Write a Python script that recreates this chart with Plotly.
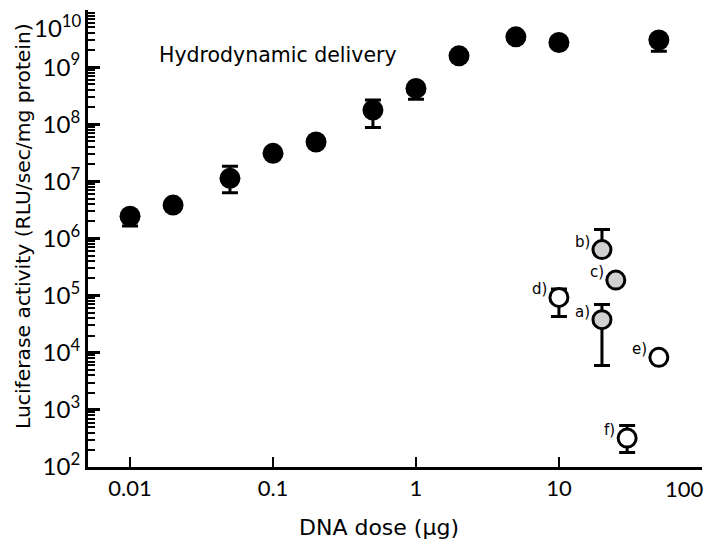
import numpy as np
import plotly.graph_objects as go

FONT = "Lato"
TFONT = "DejaVu Sans"

# Hydrodynamic delivery (filled black)
hd_dose = [0.01, 0.02, 0.05, 0.1, 0.2, 0.5, 1, 2, 5, 10, 50]
hd_act = [2.45e6, 3.85e6, 1.13e7, 3.1e7, 4.9e7, 1.77e8, 4.25e8, 1.58e9, 3.4e9, 2.7e9, 2.99e9]
hd_err_up = [0, 0, 0.72e7, 0, 0, 0.88e8, 0, 0, 0, 0, 0]
hd_err_dn = [0.8e6, 0, 0.5e7, 0, 0, 0.89e8, 1.5e8, 0, 0, 0, 1.1e9]

# Gray filled points a), b), c)
gray_labels = ["a)", "b)", "c)"]
gray_dose = [20, 20, 25]
gray_act = [3.8e4, 6.4e5, 1.87e5]
gray_err_up = [3.2e4, 8.0e5, 0]
gray_err_dn = [3.2e4, 0, 0]

# Open points d), e), f)
open_labels = ["d)", "e)", "f)"]
open_dose = [10, 50, 30]
open_act = [9.3e4, 8.3e3, 3.2e2]
open_err_up = [3.7e4, 0, 2.1e2]
open_err_dn = [5.0e4, 0, 1.4e2]

x_tickvals = [0.01, 0.1, 1, 10, 100]
x_ticktext = ["0.01", "0.1", "1", "10", "100"]
y_exponents = [2, 3, 4, 5, 6, 7, 8, 9, 10]
y_tickvals = [10.0 ** e for e in y_exponents]
y_ticktext = ["10<sup>%d</sup>" % e for e in y_exponents]

fig = go.Figure()

fig.add_trace(go.Scatter(
    x=hd_dose, y=hd_act, mode="markers",
    marker=dict(size=21, color="black", line=dict(width=0)),
    error_y=dict(type="data", symmetric=False, array=hd_err_up, arrayminus=hd_err_dn,
                 color="black", thickness=3, width=8),
    showlegend=False, cliponaxis=False))

fig.add_trace(go.Scatter(
    x=gray_dose, y=gray_act, mode="markers",
    marker=dict(size=18, color="#d0d0d0", line=dict(width=3, color="black")),
    error_y=dict(type="data", symmetric=False, array=gray_err_up, arrayminus=gray_err_dn,
                 color="black", thickness=3, width=8),
    showlegend=False, cliponaxis=False))

fig.add_trace(go.Scatter(
    x=open_dose, y=open_act, mode="markers",
    marker=dict(size=18, color="white", line=dict(width=3, color="black")),
    error_y=dict(type="data", symmetric=False, array=open_err_up, arrayminus=open_err_dn,
                 color="black", thickness=3, width=8),
    showlegend=False, cliponaxis=False))

annotations = []
for lab, xv, yv in zip(gray_labels + open_labels, gray_dose + open_dose, gray_act + open_act):
    annotations.append(dict(x=np.log10(xv), y=np.log10(yv), xref="x", yref="y",
                            text=lab, showarrow=False, xanchor="right", yanchor="middle",
                            xshift=-10, yshift=8, font=dict(family=TFONT, size=15, color="black")))

annotations.append(dict(x=np.log10(0.0155), y=9.21, xref="x", yref="y",
                        text="Hydrodynamic delivery", showarrow=False,
                        xanchor="left", yanchor="middle",
                        font=dict(family=TFONT, size=20.5, color="black")))

annotations.append(dict(x=0.474, y=-0.133, xref="paper", yref="paper",
                        text="DNA dose (µg)", showarrow=False,
                        xanchor="center", yanchor="middle",
                        font=dict(family=TFONT, size=22, color="black")))
annotations.append(dict(x=-0.107, y=0.528, xref="paper", yref="paper",
                        text="Luciferase activity (RLU/sec/mg protein)", showarrow=False,
                        textangle=-90, xanchor="center", yanchor="middle",
                        font=dict(family=TFONT, size=20.3, color="black")))

# last x tick label kept inside the figure, right-aligned at the axis end
annotations.append(dict(x=np.log10(x_tickvals[-1]), y=0, xref="x", yref="paper",
                        text=x_ticktext[-1], showarrow=False,
                        xanchor="right", yanchor="top", xshift=4, yshift=-6,
                        font=dict(family=FONT, size=22, color="black")))
shown_xticktext = x_ticktext[:-1] + [""]

# top y tick label kept inside the figure
annotations.append(dict(x=0, y=np.log10(y_tickvals[-1]), xref="paper", yref="y",
                        text=y_ticktext[-1], showarrow=False,
                        xanchor="right", yanchor="top", xshift=-4, yshift=2,
                        font=dict(family=FONT, size=24, color="black")))
shown_yticktext = y_ticktext[:-1] + [""]

fig.update_layout(
    width=712, height=534,
    margin=dict(l=80, r=18, t=2, b=75),
    paper_bgcolor="white", plot_bgcolor="white",
    font=dict(family=FONT, size=22, color="black"),
    annotations=annotations,
    xaxis=dict(type="log", range=[np.log10(0.00508), 2.0008],
               tickvals=x_tickvals, ticktext=shown_xticktext, automargin=False,
               ticklabeloverflow="allow",
               ticks="inside", ticklen=10, tickwidth=2, tickcolor="black",
               showline=True, linewidth=3, linecolor="black",
               showgrid=False, zeroline=False,
               tickfont=dict(family=FONT, size=22, color="black")),
    yaxis=dict(type="log", range=[1.9995, 10.0008],
               tickmode="array", tickvals=y_tickvals, ticktext=shown_yticktext,
               automargin=False, ticklabeloverflow="allow",
               ticks="inside", ticklen=12, tickwidth=3, tickcolor="black",
               showline=True, linewidth=3, linecolor="black",
               showgrid=False, zeroline=False,
               minor=dict(ticks="inside", ticklen=7, tickwidth=2, tickcolor="black",
                          dtick="D1", showgrid=False),
               tickfont=dict(family=FONT, size=24, color="black")),
)

fig.write_html("out.html")
